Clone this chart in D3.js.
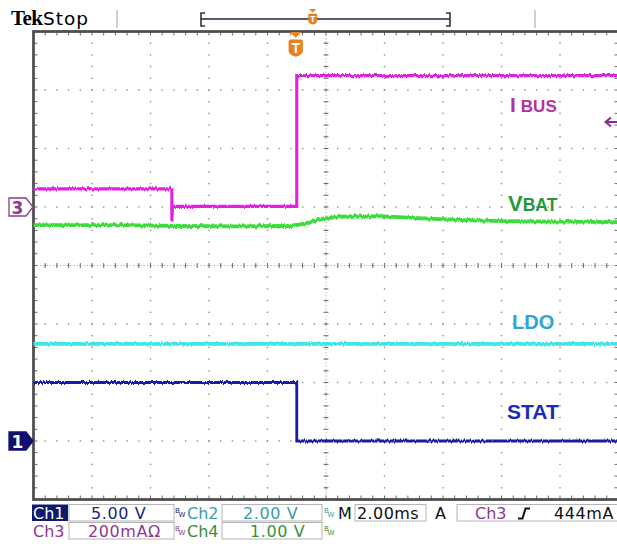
<!DOCTYPE html>
<html>
<head>
<meta charset="utf-8">
<script src="https://cdn.jsdelivr.net/npm/d3@7"></script>
<style>
    html, body { margin: 0; padding: 0; background: #fff; }
    svg { display: block; }
</style>
</head>
<body>
<svg id="scope" width="617" height="548"></svg>
<script>
'use strict';

// time window on screen, ms relative to the trigger
const timeRange = [-9, 11];

// Ch3 - I BUS, mA
const ibusTime = [-9, -4.27, -4.27, -4.25, 0, 0, 11];
const ibusValues = [62, 62, -49, 2, 2, 449, 449];

// Ch4 - VBAT, V
const vbatTime = [-9, -6, -4, -2, -0.2, 0.3, 0.9, 1.5, 2.3, 3.0, 3.8, 4.5, 5.5, 7, 9, 11];
const vbatValues = [3.69, 3.69, 3.675, 3.67, 3.675, 3.72, 3.80, 3.835, 3.845, 3.84, 3.82, 3.80, 3.78, 3.76, 3.75, 3.74];

// Ch2 - LDO, V
const ldoTime = [-9, 11];
const ldoValues = [3.32, 3.32];

// Ch1 - STAT, V
const statTime = [-9, 0, 0, 11];
const statValues = [5, 5, 0, 0];

// channel settings
const channelNames = ['Ch1', 'Ch2', 'Ch3', 'Ch4'];
const channelPerDiv = [5, 2, 200, 1];
const channelGround = [-3, -3, 1, -3];
const channelScaleLabels = ['5.00 V', '2.00 V', '200mA', '1.00 V'];

const timeBaseLabel = '2.00ms';
const triggerLevelLabel = '444mA';

function scope() {

    let plot = {
            left: 33.5,
            right: 618.5,
            top: 31.5,
            bottom: 499.5
        },
        divsX = 10,
        divsY = 8,

        // Styles
        gridDotColor = '#8e8e8e',
        frameColor = '#505050',
        tickColor = '#6a6a6a',
        triggerColor = '#e8821e',

        colors = {
            ch1: '#1c1ca0',
            ch2: '#3fe6e6',
            ch3: '#e024e0',
            ch4: '#3ddc3d'
        },
        labelColors = {
            ibus: '#b3309f',
            vbat: '#27983a',
            ldo: '#2ea4d6',
            stat: '#1b2cb4'
        },
        statusColors = {
            ch1: '#1b237a',
            ch2: '#3a9bb0',
            ch3: '#8b3a8f',
            ch4: '#3a8f3a'
        },

        x, xDiv, yDiv,
        svg;

    function exports(_selection) {
        _selection.each(function() {
            svg = d3.select(this);

            buildScales();
            buildFilter();
            drawHeader();
            drawGrid();
            drawTraces();
            drawLabels();
            drawMarkers();
            drawStatus();
        });
    }

    /**
     * Time scale plus two division scales for the screen
     * @private
     */
    function buildScales() {
        x = d3.scaleLinear().domain(timeRange).range([plot.left, plot.right]);
        xDiv = d3.scaleLinear().domain([0, divsX]).range([plot.left, plot.right]);
        yDiv = d3.scaleLinear().domain([-divsY / 2, divsY / 2]).range([plot.bottom, plot.top]);
    }

    /**
     * Vertical-only jitter so the traces look like sampled signals
     * @private
     */
    function buildFilter() {
        let filter = svg.append('defs')
            .append('filter')
            .attr('id', 'jitter')
            .attr('filterUnits', 'userSpaceOnUse')
            .attr('x', 0).attr('y', 0)
            .attr('width', 617).attr('height', 548);

        filter.append('feTurbulence')
            .attr('type', 'fractalNoise')
            .attr('baseFrequency', '0.7 0.02')
            .attr('numOctaves', 2)
            .attr('seed', 3)
            .attr('result', 'noise');
        filter.append('feColorMatrix')
            .attr('in', 'noise')
            .attr('type', 'matrix')
            .attr('values', '0 0 0 0 0.5  0 1 0 0 0  0 0 1 0 0  0 0 0 0 1')
            .attr('result', 'ynoise');
        filter.append('feDisplacementMap')
            .attr('in', 'SourceGraphic')
            .attr('in2', 'ynoise')
            .attr('scale', 3.5)
            .attr('xChannelSelector', 'R')
            .attr('yChannelSelector', 'G');
    }

    function drawHeader() {
        let g = svg.append('g').classed('header', true);

        g.append('text')
            .attr('x', 11).attr('y', 25)
            .style('font-family', 'Liberation Serif')
            .style('font-weight', 'bold')
            .style('font-size', '21px')
            .style('letter-spacing', '-0.6px')
            .text('Tek');
        g.append('text')
            .attr('x', 43).attr('y', 25)
            .style('font-family', 'DejaVu Sans')
            .style('font-size', '18.5px')
            .style('letter-spacing', '1px')
            .text('Stop');

        [117, 535].forEach(px => {
            g.append('line')
                .attr('x1', px).attr('x2', px)
                .attr('y1', 10).attr('y2', 28)
                .style('stroke', '#a0a0a0')
                .style('stroke-width', 1);
        });

        // record view bracket
        g.append('line')
            .attr('x1', 201).attr('x2', 450)
            .attr('y1', 19).attr('y2', 19)
            .style('stroke', '#5a5a78')
            .style('stroke-width', 2);
        g.append('path')
            .attr('d', 'M205,13 L201,13 L201,26 L205,26 M446,13 L450,13 L450,26 L446,26')
            .style('fill', 'none')
            .style('stroke', '#333')
            .style('stroke-width', 1.6);

        drawTriggerBadge(g, 312.7, 9, 0.6);
    }

    /**
     * Orange "T" badge with the small arrow above it
     * @private
     */
    function drawTriggerBadge(g, cx, top, k) {
        let b = g.append('g')
            .attr('transform', `translate(${cx},${top}) scale(${k})`);

        b.append('path')
            .attr('d', 'M-6,0 L6,0 L0,6 Z')
            .style('fill', triggerColor);
        b.append('path')
            .attr('d', 'M-7.5,10 Q-7.5,8 -5.5,8 L5.5,8 Q7.5,8 7.5,10 L7.5,20 Q7.5,24 0,26 Q-7.5,24 -7.5,20 Z')
            .style('fill', triggerColor);
        b.append('text')
            .attr('x', 0).attr('y', 22)
            .attr('text-anchor', 'middle')
            .style('font-family', 'Liberation Sans')
            .style('font-weight', 'bold')
            .style('font-size', '15px')
            .style('fill', '#fff')
            .text('T');
    }

    function drawGrid() {
        let g = svg.append('g').classed('grid', true),
            dots = [],
            ticks = [],
            i, j;

        // dotted major lines, one dot every fifth of a division
        for (i = 1; i < divsX; i++) {
            for (j = 1; j < divsY * 5; j++) {
                dots.push([xDiv(i), yDiv(-divsY / 2 + j / 5)]);
            }
        }
        for (j = 1; j < divsY; j++) {
            for (i = 1; i < divsX * 5; i++) {
                dots.push([xDiv(i / 5), yDiv(-divsY / 2 + j)]);
            }
        }

        g.selectAll('rect.dot')
            .data(dots)
            .join('rect')
            .classed('dot', true)
            .attr('x', d => d[0] - 0.7)
            .attr('y', d => d[1] - 0.7)
            .attr('width', 1.4)
            .attr('height', 1.4)
            .style('fill', gridDotColor);

        // minor ticks on the frame and the centre cross
        for (i = 1; i < divsX * 5; i++) {
            let px = xDiv(i / 5);
            ticks.push([px, plot.top, px, plot.top + 4]);
            ticks.push([px, plot.bottom, px, plot.bottom - 4]);
            ticks.push([px, yDiv(0) - 2.5, px, yDiv(0) + 2.5]);
        }
        for (j = 1; j < divsY * 5; j++) {
            let py = yDiv(-divsY / 2 + j / 5);
            ticks.push([plot.left, py, plot.left + 4, py]);
            ticks.push([plot.right, py, plot.right - 4, py]);
            ticks.push([xDiv(divsX / 2) - 2.5, py, xDiv(divsX / 2) + 2.5, py]);
        }

        g.selectAll('line.tick')
            .data(ticks)
            .join('line')
            .classed('tick', true)
            .attr('x1', d => d[0]).attr('y1', d => d[1])
            .attr('x2', d => d[2]).attr('y2', d => d[3])
            .style('stroke', tickColor)
            .style('stroke-width', 1);

        // fine dotted centre cross
        g.append('line')
            .attr('x1', xDiv(divsX / 2)).attr('x2', xDiv(divsX / 2))
            .attr('y1', plot.top).attr('y2', plot.bottom)
            .style('stroke', '#9a9a9a')
            .style('stroke-dasharray', '1,2.34');
        g.append('line')
            .attr('x1', plot.left).attr('x2', plot.right)
            .attr('y1', yDiv(0)).attr('y2', yDiv(0))
            .style('stroke', '#9a9a9a')
            .style('stroke-dasharray', '1,2.34');

        g.append('rect')
            .attr('x', plot.left).attr('y', plot.top)
            .attr('width', plot.right - plot.left)
            .attr('height', plot.bottom - plot.top)
            .style('fill', 'none')
            .style('stroke', frameColor)
            .style('stroke-width', 2.8);
    }

    /**
     * Maps a channel value to screen y through its volts/div and ground
     * @private
     */
    function channelY(ch, v) {
        return yDiv(v / channelPerDiv[ch] + channelGround[ch]);
    }

    function drawTraces() {
        let g = svg.append('g')
                .classed('traces', true)
                .attr('filter', 'url(#jitter)'),
            traces = [
                {ch: 1, t: ldoTime, v: ldoValues, color: colors.ch2, w: 3.6},
                {ch: 0, t: statTime, v: statValues, color: colors.ch1, w: 2.8},
                {ch: 3, t: vbatTime, v: vbatValues, color: colors.ch4, w: 3.8},
                {ch: 2, t: ibusTime, v: ibusValues, color: colors.ch3, w: 3.1}
            ];

        traces.forEach(tr => {
            let line = d3.line()
                .x((d, i) => x(tr.t[i]))
                .y(d => channelY(tr.ch, d));

            g.append('path')
                .datum(tr.v)
                .attr('d', line)
                .style('fill', 'none')
                .style('stroke', tr.color)
                .style('stroke-width', tr.w)
                .style('stroke-linejoin', 'miter');
        });
    }

    function drawLabels() {
        let g = svg.append('g')
                .classed('labels', true)
                .style('font-family', 'Liberation Sans')
                .style('font-weight', 'bold'),
            ibus = g.append('text').attr('x', 510).attr('y', 112).style('fill', labelColors.ibus),
            vbat = g.append('text').attr('x', 508).attr('y', 211).style('fill', labelColors.vbat);

        ibus.append('tspan').style('font-size', '21px').text('I');
        ibus.append('tspan').attr('dx', 5).style('font-size', '17px').text('BUS');

        vbat.append('tspan').style('font-size', '22px').text('V');
        vbat.append('tspan').style('font-size', '17.5px').text('BAT');

        g.append('text')
            .attr('x', 512).attr('y', 329)
            .style('font-size', '20px')
            .style('fill', labelColors.ldo)
            .text('LDO');
        g.append('text')
            .attr('x', 507).attr('y', 419)
            .style('font-size', '21px')
            .style('fill', labelColors.stat)
            .text('STAT');
    }

    function drawMarkers() {
        let g = svg.append('g').classed('markers', true),
            markers = [
                {label: '3', ch: 2, fill: '#fff', stroke: statusColors.ch3, text: statusColors.ch3},
                {label: '1', ch: 0, fill: '#10106e', stroke: '#10106e', text: '#fff'}
            ];

        markers.forEach(m => {
            let py = yDiv(channelGround[m.ch]);

            g.append('path')
                .attr('d', `M9,${py - 9} L26,${py - 9} L33,${py} L26,${py + 9} L9,${py + 9} Z`)
                .style('fill', m.fill)
                .style('stroke', m.stroke)
                .style('stroke-width', 1.3);
            g.append('text')
                .attr('x', 17.5).attr('y', py + 6.5)
                .attr('text-anchor', 'middle')
                .style('font-family', 'DejaVu Sans')
                .style('font-weight', 'bold')
                .style('font-size', '17px')
                .style('fill', m.text)
                .text(m.label);
        });

        // trigger position on the screen
        drawTriggerBadge(g, x(0) - 1, plot.top + 0.5, 0.95);

        // ch3 offset arrow on the right edge
        g.append('path')
            .attr('d', 'M606,122 L617,122 M611,117.5 L605.5,122 L611,126.5')
            .style('fill', 'none')
            .style('stroke', '#8a2a8e')
            .style('stroke-width', 2);
    }

    function drawStatus() {
        let g = svg.append('g')
                .classed('status', true)
                .style('font-family', 'DejaVu Sans')
                .style('font-size', '16px'),
            rows = [
                {y: 504.5, base: 519},
                {y: 522.5, base: 537}
            ],
            boxH = 16.5;

        function box(x0, x1, row) {
            g.append('rect')
                .attr('x', x0).attr('y', rows[row].y)
                .attr('width', x1 - x0).attr('height', boxH)
                .style('fill', '#fff')
                .style('stroke', '#b4b4b4')
                .style('stroke-width', 1);
        }

        function label(px, row, txt, color, extra) {
            let t = g.append('text')
                .attr('x', px).attr('y', rows[row].base)
                .style('fill', color)
                .text(txt);
            if (extra) {
                t.style('letter-spacing', extra);
            }
            return t;
        }

        function bwMark(px, row, color) {
            let by = rows[row].y;
            g.append('text')
                .attr('x', px).attr('y', by + 8)
                .style('font-size', '7px')
                .style('fill', color)
                .text('B');
            g.append('text')
                .attr('x', px + 3.5).attr('y', by + 12.5)
                .style('font-size', '7px')
                .style('fill', color)
                .text('W');
        }

        // Ch1 is the selected channel
        g.append('rect')
            .attr('x', 32).attr('y', rows[0].y)
            .attr('width', 36).attr('height', boxH)
            .style('fill', '#0d1a6e');

        box(69, 174, 0);
        box(69, 174, 1);
        box(222, 322, 0);
        box(222, 322, 1);
        box(355, 426, 0);
        box(457, 640, 0);

        label(33, 0, channelNames[0], '#fff');
        label(91, 0, channelScaleLabels[0], statusColors.ch1, '0.6px');
        bwMark(175, 0, statusColors.ch1);

        label(187, 0, channelNames[1], statusColors.ch2);
        label(243, 0, channelScaleLabels[1], statusColors.ch2, '0.6px');
        bwMark(324, 0, statusColors.ch2);

        label(338, 0, 'M', '#111');
        label(357, 0, timeBaseLabel, '#111', '0.4px');
        label(435, 0, 'A', '#111');
        label(475, 0, channelNames[2], statusColors.ch3);
        g.append('path')
            .attr('d', 'M518,518.5 L522.5,518.5 L525.5,508.5 L530,508.5')
            .style('fill', 'none')
            .style('stroke', '#111')
            .style('stroke-width', 2);
        label(554, 0, triggerLevelLabel, '#111', '0.6px');

        label(33, 1, channelNames[2], statusColors.ch3);
        label(88, 1, channelScaleLabels[2] + 'Ω', statusColors.ch3, '0.6px');
        bwMark(175, 1, statusColors.ch3);

        label(187, 1, channelNames[3], statusColors.ch4);
        label(250, 1, channelScaleLabels[3], statusColors.ch4, '0.6px');
        bwMark(324, 1, statusColors.ch4);
    }

    return exports;
}

d3.select('#scope').call(scope());
</script>
</body>
</html>
